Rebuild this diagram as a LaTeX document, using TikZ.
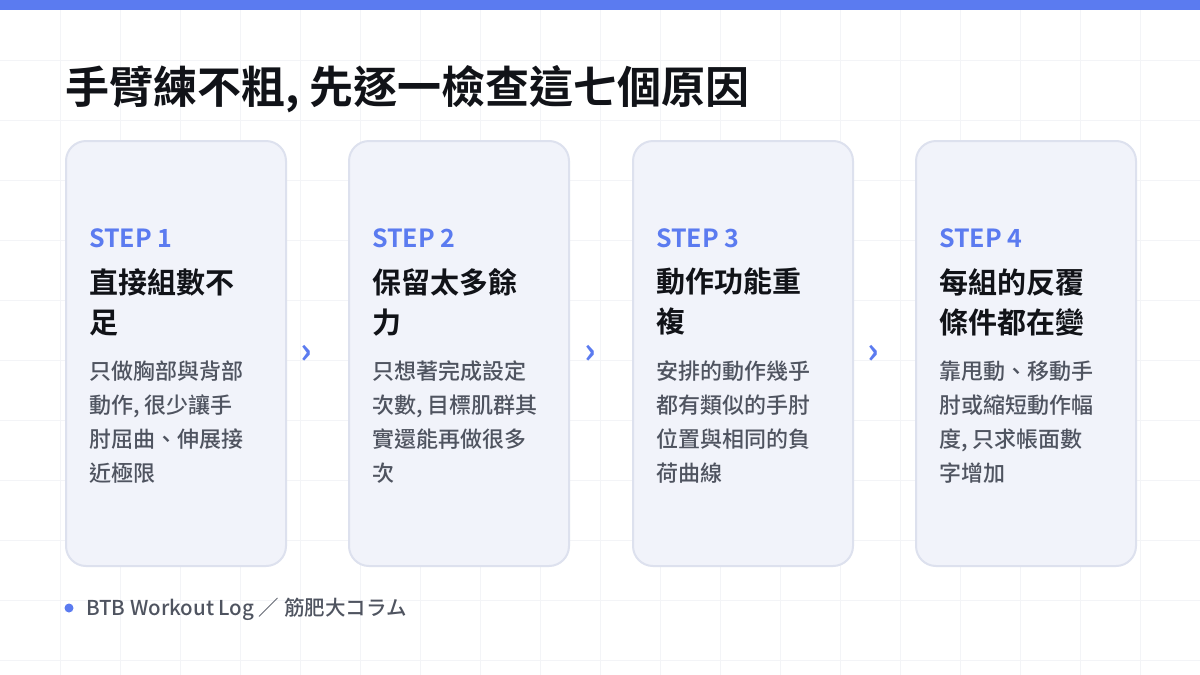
\documentclass[tikz,border=0pt]{standalone}
\usepackage{fontspec}
\setmainfont{Noto Sans CJK TC}
\newfontfamily\cjkb{Noto Sans CJK TC Bold}
\newfontfamily\cjkm{Noto Sans CJK TC Medium}
\definecolor{blue}{HTML}{5B7BF0}
\definecolor{cardfill}{HTML}{F1F3FA}
\definecolor{cardline}{HTML}{DDE1EE}
\definecolor{ink}{HTML}{111318}
\definecolor{body}{HTML}{4F5460}
\definecolor{gridc}{HTML}{F3F4F7}
\begin{document}
\begin{tikzpicture}[x=1pt,y=-1pt,
 card/.style={draw=cardline,line width=2pt,fill=cardfill,rounded corners=20pt},
 stepl/.style={anchor=base west,text=blue,font=\cjkb\fontsize{25}{28}\selectfont,inner sep=0pt},
 ttl/.style={anchor=north west,text=ink,font=\cjkb\fontsize{29}{40}\selectfont,align=left,inner sep=0pt},
 bdy/.style={anchor=north west,text=body,font=\cjkm\fontsize{22}{34}\selectfont,align=left,inner sep=0pt},
 arr/.style={text=blue,font=\cjkb\fontsize{36}{36}\selectfont}]
\useasboundingbox (0,0) rectangle (1200,675);
\fill[white] (0,0) rectangle (1200,675);
\foreach \i in {1,...,19} \draw[gridc,line width=0.8pt] (\i*60,10) -- (\i*60,675);
\foreach \j in {1,...,11} \draw[gridc,line width=0.8pt] (0,\j*60) -- (1200,\j*60);
\fill[blue] (0,0) rectangle (1200,10);
\node[anchor=base west,text=ink,font=\cjkb\fontsize{44}{48}\selectfont,inner sep=0pt] (title) at (65,103) {手臂練不粗, 先逐一檢查這七個原因};
\foreach \n/\x/\s/\t/\b in {
 1/65/{STEP 1}/{直接組數不\\足}/{只做胸部與背部\\動作, 很少讓手\\肘屈曲、伸展接\\近極限},
 2/348/{STEP 2}/{保留太多餘\\力}/{只想著完成設定\\次數, 目標肌群其\\實還能再做很多\\次},
 3/632/{STEP 3}/{動作功能重\\複}/{安排的動作幾乎\\都有類似的手肘\\位置與相同的負\\荷曲線},
 4/915/{STEP 4}/{每組的反覆\\條件都在變}/{靠甩動、移動手\\肘或縮短動作幅\\度, 只求帳面數\\字增加}}{
 \node[card,minimum width=220pt,minimum height=425pt,anchor=north west] (c\n) at (\x,140) {};
 \node[stepl] (s\n) at (\x+24,247) {\s};
 \node[ttl] (t\n) at (\x+24,268) {\t};
 \node[bdy] (b\n) at (\x+24,361) {\b};
}
\node[arr] (a1) at (306,354) {›};
\node[arr] (a2) at (590,354) {›};
\node[arr] (a3) at (873,354) {›};
\fill[blue] (69,608) circle (4.5pt);
\node[anchor=base west,text=body,font=\cjkm\fontsize{20.5}{22}\selectfont,inner sep=0pt] (foot) at (86,615) {BTB Workout Log ／ 筋肥大コラム};
\end{tikzpicture}
\end{document}
